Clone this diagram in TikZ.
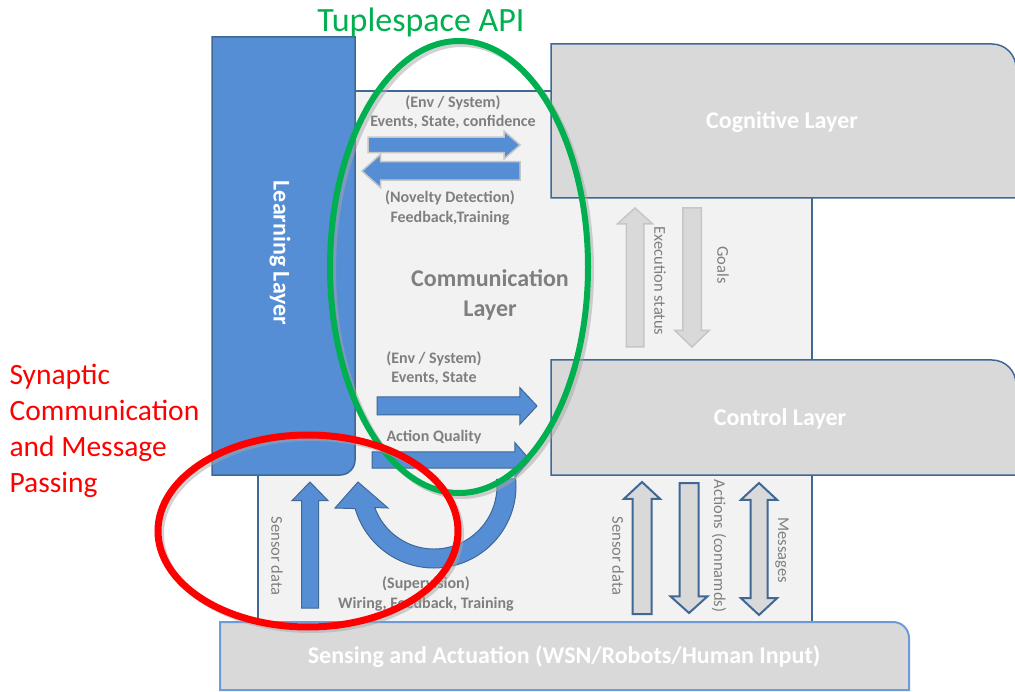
\documentclass[tikz,border=0pt]{standalone}
\usepackage{fontspec}
\setmainfont{Carlito}
\usetikzlibrary{shapes.arrows}

\definecolor{learnblue}{HTML}{558ED5}
\definecolor{layerline}{HTML}{3F6896}
\definecolor{commfill}{HTML}{F2F2F2}
\definecolor{boxgray}{HTML}{D9D9D9}
\definecolor{lightline}{HTML}{C6C6C6}
\definecolor{labelgray}{HTML}{7F7F7F}
\definecolor{sensline}{HTML}{6C9BD8}
\definecolor{tuplegreen}{HTML}{00B050}
\definecolor{synred}{HTML}{FF0000}

\tikzset{
  layer/.style={draw=layerline, line width=1.5pt},
  ttl/.style={text=white, font=\bfseries\fontsize{24}{28}\selectfont},
  lbl/.style={text=labelgray, align=center, font=\bfseries\fontsize{16}{19.5}\selectfont},
  vlbl/.style={text=labelgray, rotate=-90, font=\fontsize{16.5}{19}\selectfont},
  barrow/.style={single arrow, inner xsep=0pt, outer sep=0pt, minimum width=1pt, anchor=tail},
  bluearr/.style={fill=learnblue, draw=layerline, line width=1pt},
  greyarr/.style={fill=boxgray, draw=lightline, line width=1.5pt},
  outlarr/.style={fill=boxgray, draw=layerline, line width=2pt},
  ringshadow/.style={draw=black!35, opacity=.5, line width=6pt}
}

\begin{document}
\begin{tikzpicture}[x=1pt, y=-1pt]
  \useasboundingbox (0,0) rectangle (1015,692);

  % layers
  \filldraw[layer, fill=commfill] (258,91) rectangle (812,622);
  \filldraw[layer, fill=learnblue] (212,37) -- (355,37) -- (355,460)
    arc[start angle=0, end angle=90, radius=15] -- (212,475) -- cycle;
  \filldraw[layer, fill=boxgray] (551,198) -- (551,44) -- (992,44)
    arc[start angle=-90, end angle=0, radius=24] -- (1016,198) -- cycle;
  \filldraw[layer, fill=boxgray] (551,475) -- (551,360) -- (992,360)
    arc[start angle=-90, end angle=0, radius=24] -- (1016,475) -- cycle;
  \filldraw[draw=sensline, line width=2pt, fill=boxgray] (220,690) -- (220,622) -- (893,622)
    arc[start angle=-90, end angle=0, radius=16] -- (909,690) -- cycle;

  \node[ttl] (cogn) at (782,122) {Cognitive Layer};
  \node[ttl] (ctrl) at (780,419) {Control Layer};
  \node[ttl, rotate=-90] (learn) at (280,253) {Learning Layer};
  \node[ttl] (sens) at (564,657) {Sensing and Actuation (WSN/Robots/Human Input)};
  \node[text=labelgray, align=center, font=\bfseries\fontsize{24}{30}\selectfont] (comm) at (490,295) {Communication\\Layer};

  % supervision loop
  \filldraw[bluearr] ([shift={(434,486)}]-5:82) arc[start angle=-5, end angle=164, radius=82]
    -- (335,508) -- (358,482) -- (388,508) -- ([shift={(434,486)}]160:63)
    arc[start angle=160, end angle=-6, radius=63] -- cycle;

  % block arrows
  \node[barrow, fill=learnblue, draw=lightline, line width=1.5pt, minimum height=152pt, inner ysep=7pt,
    single arrow head extend=6pt, single arrow tip angle=82] (evtA) at (368,145) {};
  \node[barrow, fill=learnblue, draw=lightline, line width=1.5pt, minimum height=158pt, inner ysep=8.5pt,
    single arrow head extend=7.5pt, single arrow tip angle=84, rotate=180] (fbA) at (520,171) {};
  \node[barrow, greyarr, minimum height=139pt, inner ysep=8pt,
    single arrow head extend=9pt, single arrow tip angle=96, rotate=90] (execA) at (635,347) {};
  \node[barrow, greyarr, minimum height=139pt, inner ysep=8.5pt,
    single arrow head extend=8pt, single arrow tip angle=92, rotate=-90] (goalA) at (692,208) {};
  \node[barrow, bluearr, minimum height=160pt, inner ysep=8.5pt,
    single arrow head extend=9.5pt, single arrow tip angle=94] (stateA) at (377,406) {};
  \node[barrow, bluearr, minimum height=158pt, inner ysep=7.5pt,
    single arrow head extend=9.5pt, single arrow tip angle=98] (qualA) at (372,460) {};
  \node[barrow, bluearr, minimum height=126pt, inner ysep=8pt,
    single arrow head extend=9.5pt, single arrow tip angle=88, rotate=90] (sensA) at (310,608) {};
  \node[barrow, outlarr, minimum height=132pt, inner ysep=8.5pt,
    single arrow head extend=8.5pt, single arrow tip angle=94, rotate=90] (rawA) at (642,614) {};
  \node[barrow, outlarr, minimum height=130pt, inner ysep=8.5pt,
    single arrow head extend=9pt, single arrow tip angle=96, rotate=-90] (actA) at (689,483) {};
  \node[double arrow, outlarr, inner xsep=0pt, inner ysep=7.5pt, outer sep=0pt, minimum height=132pt,
    double arrow head extend=9.5pt, double arrow tip angle=94, rotate=90] (msgA) at (759,549) {};

  % labels
  \node[lbl] (evtlbl) at (453,112) {(Env / System)\\Events, State, confidence};
  \node[lbl] (fblbl) at (450,208) {(Novelty Detection)\\Feedback,Training};
  \node[lbl] (statelbl) at (434,368) {(Env / System)\\Events, State};
  \node[lbl] (quallbl) at (434,437) {Action Quality};
  \node[lbl] (suplbl) at (426,594) {(Supervision)\\Wiring, Feedback, Training};
  \node[vlbl] (execlbl) at (660,281) {Execution status};
  \node[vlbl] (goallbl) at (723,265) {Goals};
  \node[vlbl] (senslbl) at (277,556) {Sensor data};
  \node[vlbl] (rawlbl) at (618,556) {Sensor data};
  \node[vlbl] (actlbl) at (719,546) {Actions (connamds)};
  \node[vlbl] (msglbl) at (782,550) {Messages};

  % highlight rings
  \draw[ringshadow] (462,270) ellipse [x radius=129, y radius=226];
  \draw[tuplegreen, line width=6pt] (459,267) ellipse [x radius=129, y radius=226];
  \draw[ringshadow] (311,534) ellipse [x radius=150, y radius=96];
  \draw[synred, line width=7pt] (308,531) ellipse [x radius=150, y radius=96];

  \node[text=tuplegreen, font=\fontsize{34}{40}\selectfont] (tuple) at (421,22) {Tuplespace API};
  \node[text=synred, align=left, anchor=west, font=\fontsize{29.5}{36}\selectfont] (synap) at (6,431)
    {Synaptic\\Communication\\and Message\\Passing};
\end{tikzpicture}
\end{document}
